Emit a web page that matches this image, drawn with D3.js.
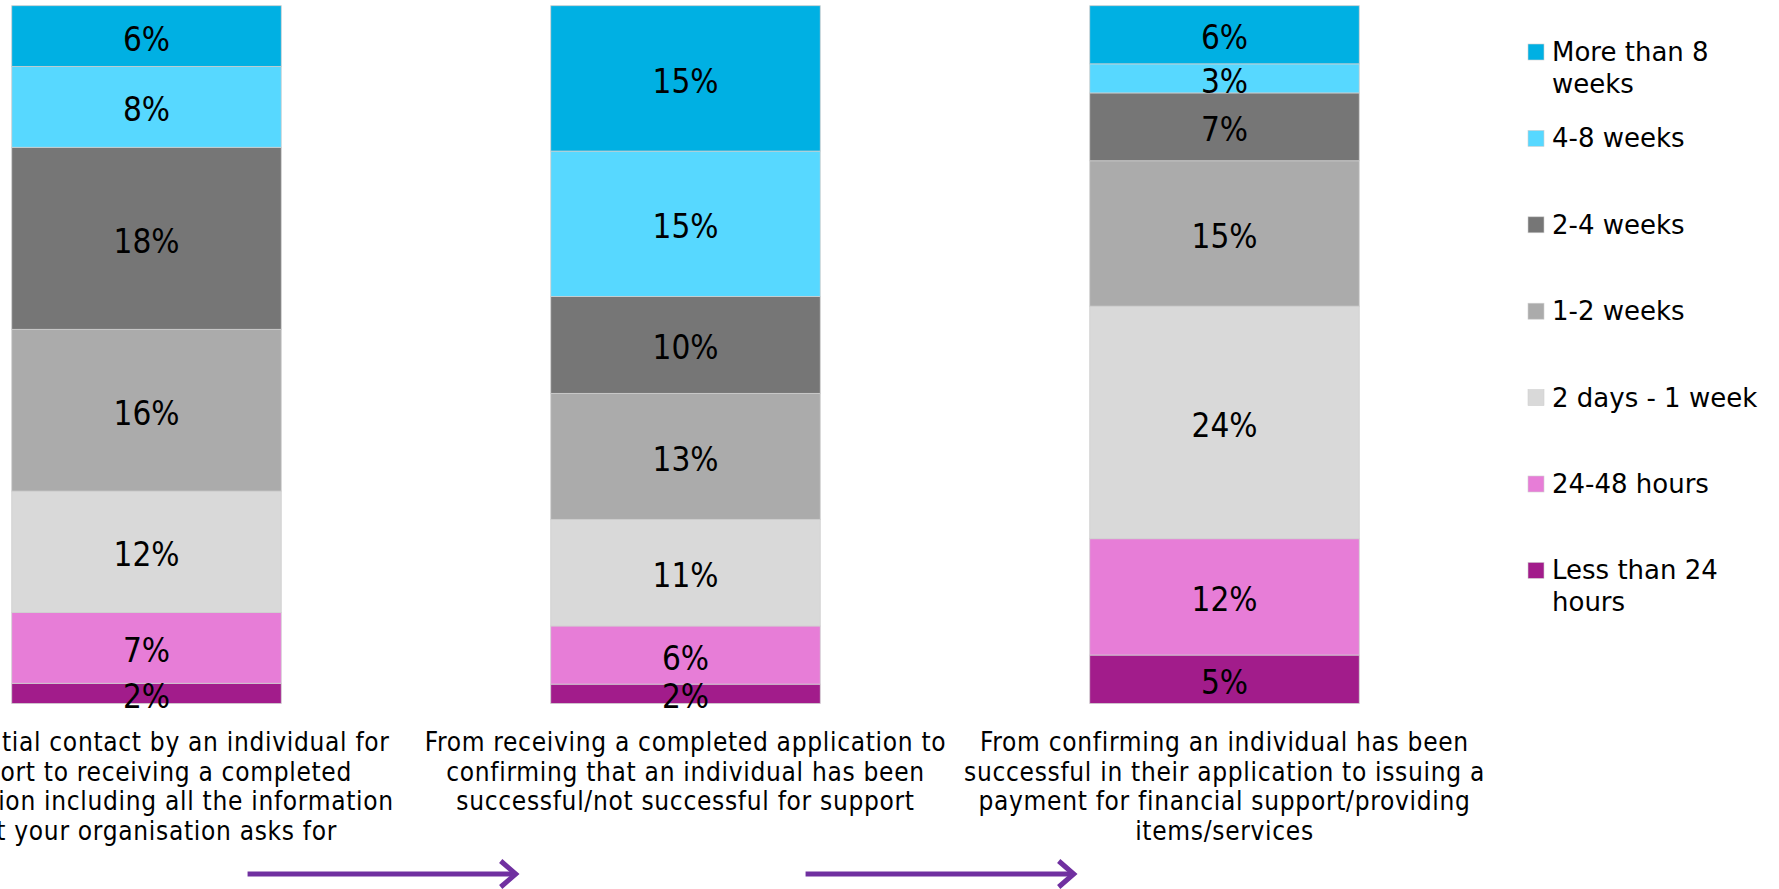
<!DOCTYPE html>
<html><head><meta charset="utf-8">
<script src="https://cdn.jsdelivr.net/npm/d3@7"></script>
<style>
html,body{margin:0;padding:0;background:#fff;overflow:hidden;}
svg{display:block;}
</style></head>
<body>
<svg id="chart" width="1779" height="889"></svg>
<script>
// ---- data ----
const categories = [
  ["From initial contact by an individual for", "support to receiving a completed", "application including all the information", "that your organisation asks for"],
  ["From receiving a completed application to", "confirming that an individual has been", "successful/not successful for support"],
  ["From confirming an individual has been", "successful in their application to issuing a", "payment for financial support/providing", "items/services"]
];
const seriesNames = ["Less than 24 hours", "24-48 hours", "2 days - 1 week", "1-2 weeks", "2-4 weeks", "4-8 weeks", "More than 8 weeks"];
const lessThan24h   = [2, 2, 5];
const h24to48       = [7, 6, 12];
const days2toWeek1  = [12, 11, 24];
const weeks1to2     = [16, 13, 15];
const weeks2to4     = [18, 10, 7];
const weeks4to8     = [8, 15, 3];
const moreThan8w    = [6, 15, 6];
const seriesColors = ["#A21C8B", "#E77DD7", "#D9D9D9", "#ABABAB", "#767676", "#57D8FF", "#00B0E3"];
const legendLines = [["More than 8", "weeks"], ["4-8 weeks"], ["2-4 weeks"], ["1-2 weeks"], ["2 days - 1 week"], ["24-48 hours"], ["Less than 24", "hours"]];

const seriesValues = [lessThan24h, h24to48, days2toWeek1, weeks1to2, weeks2to4, weeks4to8, moreThan8w];
const table = categories.map((c, i) => {
  const row = {idx: i};
  seriesNames.forEach((s, j) => row[s] = seriesValues[j][i]);
  return row;
});

const svg = d3.select("#chart");
const catFont = "'DejaVu Sans Condensed','DejaVu Sans',sans-serif";

const x = d3.scaleBand().domain(d3.range(categories.length)).range([-123, 1494]).paddingInner(0.5).paddingOuter(0.25);
const y = d3.scaleLinear().domain([0, 1]).range([703.5, 5.7]);
const color = d3.scaleOrdinal().domain(seriesNames).range(seriesColors);

const stack = d3.stack().keys(seriesNames).offset(d3.stackOffsetExpand);
const stacked = stack(table);

const layers = svg.append("g").selectAll("g").data(stacked).join("g")
  .attr("fill", d => color(d.key));
layers.selectAll("rect").data(d => d.map(p => ({p, key: d.key}))).join("rect")
  .attr("x", d => x(d.p.data.idx))
  .attr("width", x.bandwidth())
  .attr("y", d => y(d.p[1]))
  .attr("height", d => y(d.p[0]) - y(d.p[1]))
  .attr("stroke", "#cfcfcf").attr("stroke-width", 0.8);

// data labels
const labels = svg.append("g");
stacked.forEach(layer => {
  layer.forEach(p => {
    const v = p.data[layer.key];
    labels.append("text")
      .attr("x", x(p.data.idx) + x.bandwidth() / 2)
      .attr("y", (y(p[0]) + y(p[1])) / 2 + 3)
      .attr("text-anchor", "middle")
      .attr("dominant-baseline", "central")
      .attr("font-family", catFont)
      .attr("font-size", 33)
      .attr("fill", "#000")
      .text(v + "%");
  });
});

// category labels
const catG = svg.append("g");
categories.forEach((lines, i) => {
  const t = catG.append("text")
    .attr("text-anchor", "middle")
    .attr("font-family", catFont)
    .attr("font-size", 26)
    .attr("letter-spacing", 0.7)
    .attr("fill", "#000");
  lines.forEach((ln, k) => {
    t.append("tspan")
      .attr("x", x(i) + x.bandwidth() / 2)
      .attr("y", 742 + k * 29.5)
      .attr("dominant-baseline", "central")
      .text(ln);
  });
});

// arrows between stages
const arrowShift = [0, 19];
const arrowG = svg.append("g").attr("stroke", "#7030A0").attr("fill", "none").attr("stroke-width", 5);
for (let i = 0; i < categories.length - 1; i++) {
  const x0 = x(i) + x.bandwidth() * 0.875 + arrowShift[i];
  const x1 = x(i + 1) - x.bandwidth() * 0.13 + arrowShift[i];
  const ya = 874;
  arrowG.append("line").attr("x1", x0).attr("x2", x1 - 2).attr("y1", ya).attr("y2", ya);
  arrowG.append("path").attr("d", `M${x1 - 15},${ya - 13} L${x1},${ya} L${x1 - 15},${ya + 13}`)
    .attr("stroke-linejoin", "miter");
}

// legend
const legend = svg.append("g");
legendLines.forEach((lines, i) => {
  const name = seriesNames[seriesNames.length - 1 - i];
  const cy = 52 + i * 86.4;
  legend.append("rect").attr("x", 1528).attr("y", cy - 8).attr("width", 16).attr("height", 16)
    .attr("fill", color(name)).attr("stroke", "#cfcfcf").attr("stroke-width", 0.6);
  const t = legend.append("text").attr("font-family", "'DejaVu Sans',Verdana,sans-serif").attr("font-size", 26).attr("fill", "#000");
  lines.forEach((ln, k) => {
    t.append("tspan").attr("x", 1552).attr("y", cy + k * 32).attr("dominant-baseline", "central").text(ln);
  });
});
</script>
</body></html>
